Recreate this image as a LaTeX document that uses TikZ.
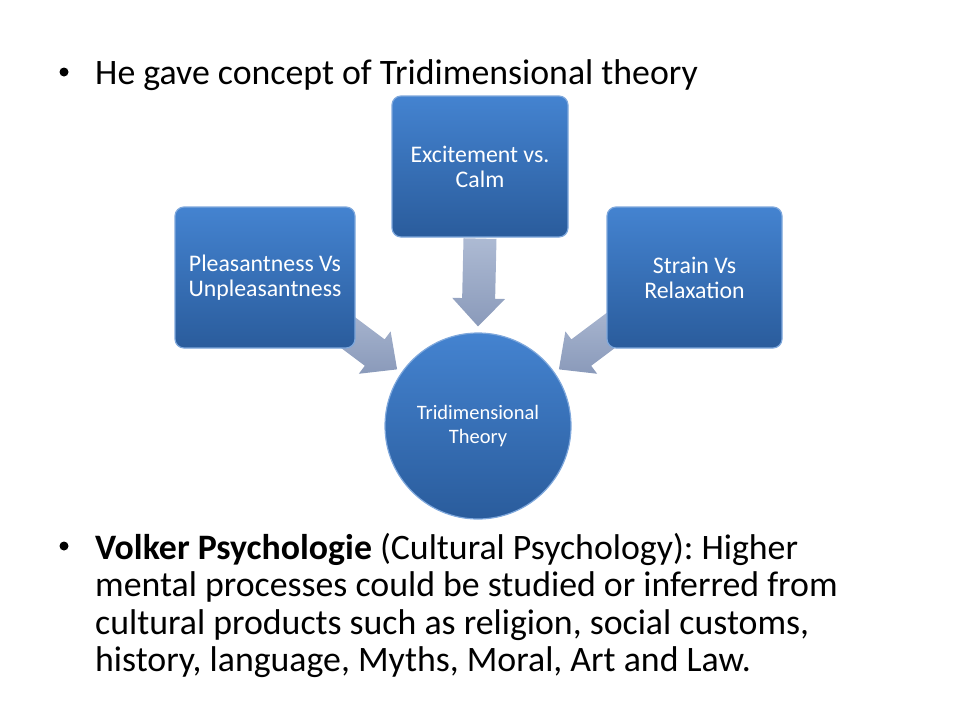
\documentclass[tikz,border=0pt]{standalone}
\usepackage{fontspec}
\setmainfont{Carlito}
\usetikzlibrary{calc,backgrounds}
\frenchspacing
\definecolor{boxtop}{HTML}{4483D0}
\definecolor{boxbot}{HTML}{2A5C9C}
\definecolor{boxrim}{HTML}{7FA8DC}
\definecolor{arrowa}{HTML}{ADBAD3}
\definecolor{arrowb}{HTML}{8A9ABA}
\tikzset{
  dimbox/.style={rectangle, rounded corners=9pt, top color=boxtop, bottom color=boxbot,
    draw=boxrim, line width=1.2pt, text=white, align=center,
    font=\fontsize{23.8}{25}\selectfont, inner sep=0pt},
  dimcirc/.style={circle, top color=boxtop, bottom color=boxbot, draw=boxrim,
    line width=1.2pt, text=white, align=center, font=\fontsize{20.5}{24}\selectfont,
    minimum size=186pt, inner sep=0pt},
  bodytext/.style={font=\fontsize{35.8}{37.5}\selectfont, text=black, inner sep=0pt, align=left},
  bulletmark/.style={circle, fill=black, minimum size=9pt, inner sep=0pt},
  blockarr/.style={top color=arrowa, bottom color=arrowb, draw=none}
}
\newcommand{\blockarrow}[2]{%
  \coordinate (H) at ($(#2)!28pt!(#1)$);
  \shade[blockarr]
    ($(#1)!16.5pt!90:(#2)$) -- ($(H)!16.5pt!-90:(#1)$) -- ($(H)!26.5pt!-90:(#1)$) -- (#2)
    -- ($(H)!26.5pt!90:(#1)$) -- ($(H)!16.5pt!90:(#1)$) -- ($(#1)!16.5pt!-90:(#2)$) -- cycle;
}
\begin{document}
\begin{tikzpicture}[x=1pt,y=-1pt]
\useasboundingbox (0,0) rectangle (960,720);
% top bullet
\node[bulletmark] (bul1) at (64,72) {};
\node[bodytext, anchor=base west] (t1) at (95,84) {He gave concept of Tridimensional theory};
% boxes
\node[dimbox, minimum width=180pt, minimum height=141pt] (left) at (265,277.5) {Pleasantness Vs\\Unpleasantness};
\node[dimbox, minimum width=176pt, minimum height=141pt] (top) at (480,166.5) {Excitement vs.\\Calm};
\node[dimbox, minimum width=175pt, minimum height=141pt] (right) at (694.5,277.5) {Strain Vs\\Relaxation};
\node[dimcirc] (circ) at (478,426) {Tridimensional\\Theory};
% arrows behind
\begin{scope}[on background layer]
  \coordinate (ts) at ($(top.south)+(0,1)$);
  \coordinate (tt) at ($(circ.north)+(0,-6)$);
  \blockarrow{ts}{tt}
  \coordinate (lt) at ($(circ.center)!1.055!(circ.145)$);
  \coordinate (ls) at ($(lt)+(-76,-57)$);
  \blockarrow{ls}{lt}
  \coordinate (rt) at ($(circ.center)!1.055!(circ.35)$);
  \coordinate (rs) at ($(rt)+(76,-57)$);
  \blockarrow{rs}{rt}
\end{scope}
% bottom bullet
\node[bulletmark] (bul2) at (64,546) {};
\node[bodytext, anchor=north west] (t2) at (95,533) {\textbf{Volker Psychologie} (Cultural Psychology): Higher\\
mental processes could be studied or inferred from\\
cultural products such as religion, social customs,\\
history, language, Myths, Moral, Art and Law.};
\end{tikzpicture}
\end{document}
